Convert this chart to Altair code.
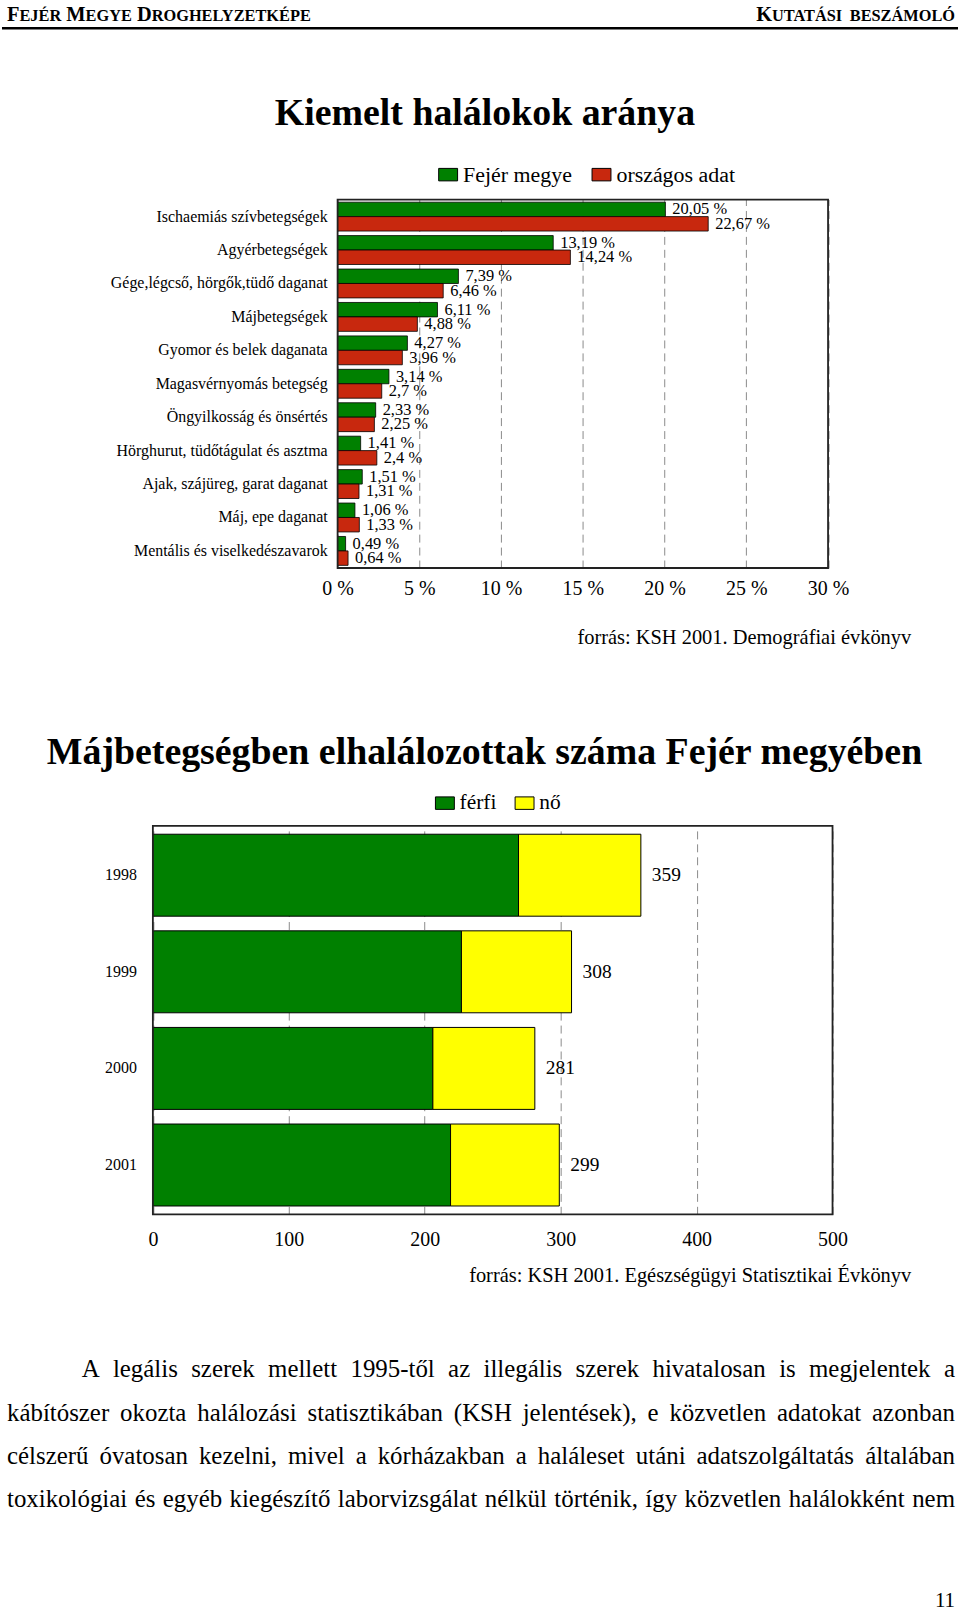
import unicodedata
import altair as alt
import pandas as pd

# ---------------- data ----------------
causes = ["Ischaemiás szívbetegségek", "Agyérbetegségek", "Gége,légcső, hörgők,tüdő daganat",
          "Májbetegségek", "Gyomor és belek daganata", "Magasvérnyomás betegség",
          "Öngyilkosság és önsértés", "Hörghurut, tüdőtágulat és asztma",
          "Ajak, szájüreg, garat daganat", "Máj, epe daganat", "Mentális és viselkedészavarok"]
fejer = [20.05, 13.19, 7.39, 6.11, 4.27, 3.14, 2.33, 1.41, 1.51, 1.06, 0.49]
orszagos = [22.67, 14.24, 6.46, 4.88, 3.96, 2.7, 2.25, 2.4, 1.31, 1.33, 0.64]
series1 = ["Fejér megye", "országos adat"]
pct_ticks = [0, 5, 10, 15, 20, 25, 30]

years = ["1998", "1999", "2000", "2001"]
ferfi = [269, 227, 206, 219]
no = [90, 81, 75, 80]
series2 = ["férfi", "nő"]
count_ticks = [0, 100, 200, 300, 400, 500]

header_left = "Fejér Megye Droghelyzetképe"
header_right = "Kutatási beszámoló"
title1 = "Kiemelt halálokok aránya"
title2 = "Májbetegségben elhalálozottak száma Fejér megyében"
source1 = "forrás: KSH 2001. Demográfiai évkönyv"
source2 = "forrás: KSH 2001. Egészségügyi Statisztikai Évkönyv"
paragraph = [
    "A legális szerek mellett 1995-től az illegális szerek hivatalosan is megjelentek a",
    "kábítószer okozta halálozási statisztikában (KSH jelentések), e közvetlen adatokat azonban",
    "célszerű óvatosan kezelni, mivel a kórházakban a haláleset utáni adatszolgáltatás általában",
    "toxikológiai és egyéb kiegészítő laborvizsgálat nélkül történik, így közvetlen halálokként nem",
]
page_no = "11"

# ---------------- styles / layout ----------------
GREEN, RED, YELLOW = "#008000", "#C8280E", "#FFFF00"
W = 960
H_HEAD, H_C1, H_MID, H_C2, H_BOT = 197, 370, 259, 390, 397
FONT = "Liberation Serif"

# Times metrics (1/1000 em) for text layout (justification / small caps)
REG_LOWER = [444,500,444,500,444,333,500,500,278,278,500,278,778,500,500,500,500,333,389,278,500,500,722,500,500,444]
REG_UPPER = [722,667,667,722,611,556,722,722,333,389,722,611,889,722,722,556,722,667,556,611,722,722,944,722,722,611]
BOLD_UPPER = [722,667,722,722,667,611,778,778,389,500,778,667,944,722,778,611,778,722,556,667,722,722,1000,722,722,667]
PUNCT = {" ": 250, ",": 250, ".": 250, "-": 333, "(": 333, ")": 333, ":": 278, "%": 833}


def base_char(c):
    return unicodedata.normalize("NFD", c)[0]


def char_w(c, bold=False):
    b = base_char(c)
    if b in PUNCT:
        return PUNCT[b]
    if b.isdigit():
        return 500
    if "a" <= b <= "z":
        return REG_LOWER[ord(b) - 97]
    if "A" <= b <= "Z":
        return (BOLD_UPPER if bold else REG_UPPER)[ord(b) - 65]
    return 500


def text_w(s, size, bold=False):
    return sum(char_w(c, bold) for c in s) / 1000.0 * size


# ---- header (small caps) ----
BIG, SMALL = 20.5, 16.4


def smallcaps_segments(s):
    segs = []
    for ch in s:
        if ch == " ":
            segs.append([" ", BIG])
            continue
        if ch.isupper():
            fs, t = BIG, ch
        else:
            fs, t = SMALL, ch.upper()
        if segs and segs[-1][1] == fs and segs[-1][0] != " ":
            segs[-1][0] += t
        else:
            segs.append([t, fs])
    return segs


def layout_segments(segs, start):
    rows, x = [], start
    for t, fs in segs:
        if t != " ":
            rows.append({"text": t, "x": x, "fs": fs})
        x += text_w(t, fs, bold=True)
    return rows, x


lsegs = smallcaps_segments(header_left)
rows_l, _ = layout_segments(lsegs, 5)
rsegs = smallcaps_segments(header_right)
_, rend = layout_segments(rsegs, 0)
rows_r, _ = layout_segments(rsegs, 957 - rend)
hdr_df = pd.DataFrame(rows_l + rows_r)

one = pd.DataFrame({"k": [0]})

hdr_text = alt.Chart(hdr_df).mark_text(align="left", baseline="alphabetic", fontWeight="bold", color="black").encode(
    x=alt.X("x:Q", scale=None, axis=None),
    y=alt.value(18),
    text="text:N",
    size=alt.Size("fs:Q", scale=None, legend=None),
)
hdr_rule = alt.Chart(one).mark_rule(color="black", strokeWidth=2.5).encode(
    x=alt.value(0), x2=alt.value(W), y=alt.value(25))
t1 = alt.Chart(pd.DataFrame({"t": [title1]})).mark_text(
    fontSize=38, fontWeight="bold", align="center", baseline="middle", color="black").encode(
    x=alt.value(485), y=alt.value(111), text="t:N")
header = alt.layer(hdr_text, hdr_rule, t1).properties(width=W, height=H_HEAD)

# ---- chart 1 ----
X0_1, X1_1 = 337.0, 829.5
ppu1 = (X1_1 - X0_1) / 30
dom1 = [-X0_1 / ppu1, (W - X0_1) / ppu1]

rows = []
for c, a, b in zip(causes, fejer, orszagos):
    rows.append({"cause": c, "series": series1[0], "value": a, "label": str(a).replace(".", ",") + " %"})
    rows.append({"cause": c, "series": series1[1], "value": b, "label": str(b).replace(".", ",") + " %"})
df1 = pd.DataFrame(rows)

x1 = alt.X("value:Q", stack=None,
           scale=alt.Scale(domain=dom1, nice=False, zero=False),
           axis=alt.Axis(values=pct_ticks, labelExpr="datum.value + ' %'", grid=True,
                         gridDash=[8, 5], gridColor="#8a8a8a", gridWidth=1, domain=False, ticks=False,
                         labelFontSize=20, labelPadding=11, labelColor="black", title=None,
                         labelFlush=False, labelOverlap=False))
y1 = alt.Y("cause:N", sort=causes, scale=alt.Scale(paddingInner=0.136, paddingOuter=0.079), axis=None)
yo1 = alt.YOffset("series:N", sort=series1, scale=alt.Scale(paddingInner=0, paddingOuter=0))

bars1 = alt.Chart(df1).mark_bar(stroke="black", strokeWidth=0.8).encode(
    x=x1, y=y1, yOffset=yo1,
    color=alt.Color("series:N", scale=alt.Scale(domain=series1, range=[GREEN, RED]),
                    legend=alt.Legend(title=None, orient="none", legendX=437, legendY=-36,
                                      direction="horizontal", symbolType="M-1,-0.66H1V0.66H-1Z",
                                      symbolSize=361, symbolStrokeColor="black", symbolStrokeWidth=1,
                                      labelFontSize=22, labelOffset=4, columnPadding=17, padding=0,
                                      labelColor="black")),
)
vals1 = alt.Chart(df1).mark_text(align="left", baseline="middle", dx=7, fontSize=16.5, color="black").encode(
    x=x1, y=y1, yOffset=yo1, text="label:N")
cats1 = alt.Chart(pd.DataFrame({"cause": causes})).mark_text(
    align="right", baseline="middle", dx=-10, fontSize=16, color="black").encode(
    x=alt.datum(0), y=y1, text="cause:N")
frame1 = alt.Chart(one).mark_rect(fillOpacity=0, stroke="#222", strokeWidth=1.8).encode(
    x=alt.datum(0), x2=alt.datum(30), y=alt.value(0), y2=alt.value(H_C1))
c1 = alt.layer(bars1, vals1, cats1, frame1).properties(width=W, height=H_C1)

# ---- middle text cell ----
s1 = alt.Chart(pd.DataFrame({"t": [source1]})).mark_text(
    fontSize=20.5, align="right", baseline="middle", color="black").encode(
    x=alt.value(913), y=alt.value(70), text="t:N")
t2 = alt.Chart(pd.DataFrame({"t": [title2]})).mark_text(
    fontSize=38, fontWeight="bold", align="center", baseline="middle", color="black").encode(
    x=alt.value(484.5), y=alt.value(186), text="t:N")
mid = alt.layer(s1, t2).properties(width=W, height=H_MID)

# ---- chart 2 ----
X0_2, X1_2 = 151.5, 834.0
ppu2 = (X1_2 - X0_2) / 500
dom2 = [-X0_2 / ppu2, (W - X0_2) / ppu2]

rows2 = []
for yr, f, n in zip(years, ferfi, no):
    rows2.append({"year": yr, "sex": series2[0], "value": f, "ord": 0})
    rows2.append({"year": yr, "sex": series2[1], "value": n, "ord": 1})
df2 = pd.DataFrame(rows2)
tot_df = pd.DataFrame({"year": years, "total": [f + n for f, n in zip(ferfi, no)]})

xs2 = alt.Scale(domain=dom2, nice=False, zero=False)
y2 = alt.Y("year:N", sort=years, scale=alt.Scale(paddingInner=0.1515, paddingOuter=0.086), axis=None)

bars2 = alt.Chart(df2).mark_bar(stroke="black", strokeWidth=1).encode(
    x=alt.X("value:Q", stack="zero", scale=xs2,
            axis=alt.Axis(values=count_ticks, grid=True, gridDash=[8, 5], gridColor="#8a8a8a",
                          gridWidth=1, domain=False, ticks=False, labelFontSize=20, labelPadding=15,
                          labelColor="black", title=None, labelFlush=False, labelOverlap=False)),
    y=y2,
    color=alt.Color("sex:N", scale=alt.Scale(domain=series2, range=[GREEN, YELLOW]),
                    legend=alt.Legend(title=None, orient="none", legendX=434, legendY=-34,
                                      direction="horizontal", symbolType="M-1,-0.66H1V0.66H-1Z",
                                      symbolSize=361, symbolStrokeColor="black", symbolStrokeWidth=1,
                                      labelFontSize=21.5, labelOffset=4, columnPadding=16, padding=0,
                                      labelColor="black")),
    order=alt.Order("ord:Q"),
)
tot2 = alt.Chart(tot_df).mark_text(align="left", baseline="middle", dx=11, fontSize=19.5, color="black").encode(
    x=alt.X("total:Q", scale=xs2), y=y2, text="total:Q")
yrs2 = alt.Chart(pd.DataFrame({"year": years})).mark_text(
    align="right", baseline="middle", dx=-16, fontSize=16, color="black").encode(
    x=alt.datum(0), y=y2, text="year:N")
frame2 = alt.Chart(one).mark_rect(fillOpacity=0, stroke="#222", strokeWidth=1.8).encode(
    x=alt.datum(0), x2=alt.datum(500), y=alt.value(0), y2=alt.value(H_C2))
c2 = alt.layer(bars2, tot2, yrs2, frame2).properties(width=W, height=H_C2)

# ---- bottom text cell ----
PFS = 25
LINE0, LSTEP = 155.6, 43.55
prow = []
for i, line in enumerate(paragraph):
    words = line.split(" ")
    x0 = 80 if i == 0 else 5
    x1_ = 957
    widths = [text_w(w_, PFS) for w_ in words]
    gap = (x1_ - x0 - sum(widths)) / (len(words) - 1)
    x = x0
    for w_, ww in zip(words, widths):
        prow.append({"w": w_, "x": x, "y": LINE0 + i * LSTEP})
        x += ww + gap
par_df = pd.DataFrame(prow)

s2 = alt.Chart(pd.DataFrame({"t": [source2]})).mark_text(
    fontSize=20.5, align="right", baseline="middle", color="black").encode(
    x=alt.value(913), y=alt.value(62), text="t:N")
par = alt.Chart(par_df).mark_text(align="left", baseline="middle", fontSize=PFS, color="black").encode(
    x=alt.X("x:Q", scale=None, axis=None), y=alt.Y("y:Q", scale=None, axis=None), text="w:N")
pg = alt.Chart(pd.DataFrame({"t": [page_no]})).mark_text(
    fontSize=21, align="right", baseline="middle", color="black").encode(
    x=alt.value(957), y=alt.value(388), text="t:N")
bottom = alt.layer(s2, par, pg).properties(width=W, height=H_BOT)

chart = alt.vconcat(header, c1, mid, c2, bottom, spacing=0, bounds="flush").resolve_scale(
    color="independent", x="independent", y="independent", size="independent"
).resolve_legend(color="independent").properties(padding=0).configure(
    font=FONT, background="white"
).configure_view(stroke=None)

chart.save("out.html", embed_options={"renderer": "svg", "actions": False})
